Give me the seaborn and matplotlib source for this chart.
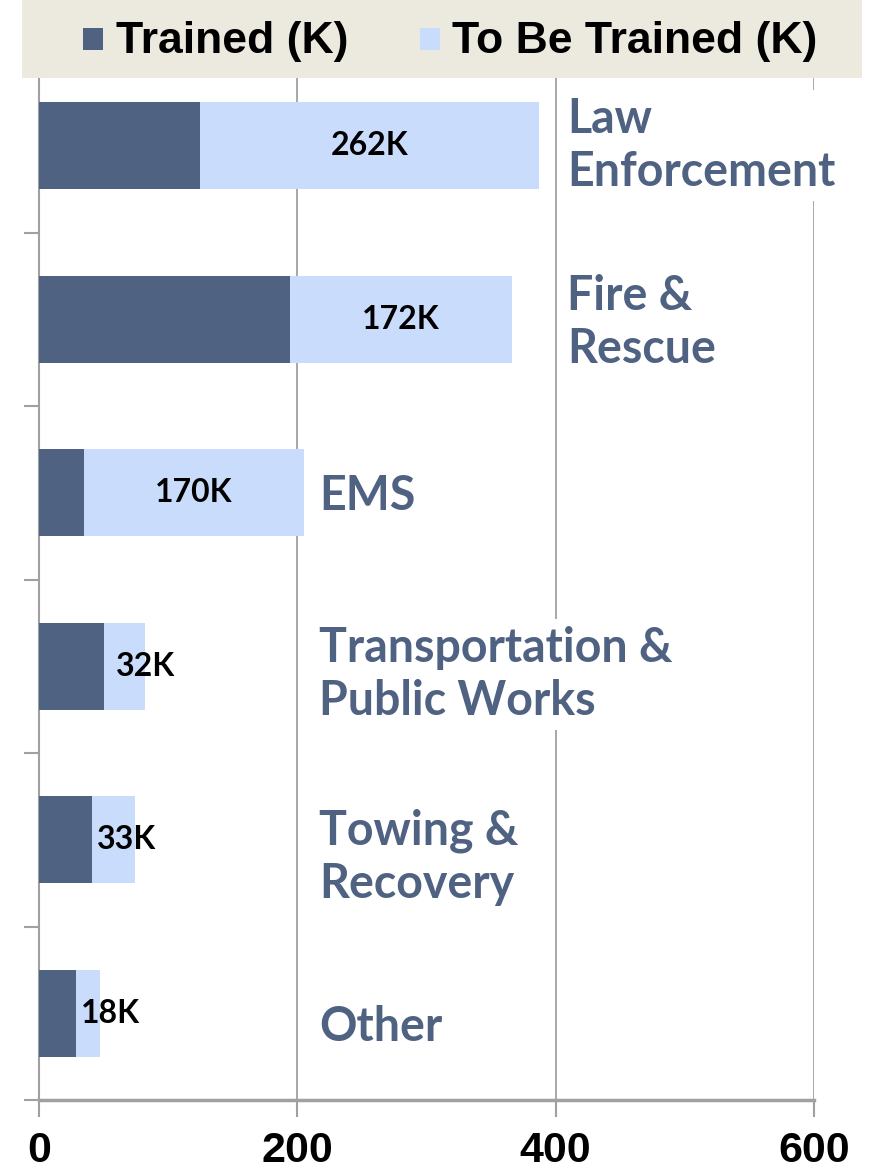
import matplotlib
matplotlib.use("Agg")
import matplotlib.pyplot as plt
from matplotlib.patches import Rectangle
import numpy as np
import pandas as pd
import seaborn as sns

# ---------------- data ----------------
categories = ["Law\nEnforcement", "Fire &\nRescue", "EMS",
              "Transportation &\nPublic Works", "Towing &\nRecovery", "Other"]
trained = [125, 194, 35, 50, 41, 29]
to_be_trained = [262, 172, 170, 32, 33, 18]
value_labels = ["262K", "172K", "170K", "32K", "33K", "18K"]
xticks = [0, 200, 400, 600]
legend_labels = ["Trained (K)", "To Be Trained (K)"]

# ---------------- style ----------------
W, H = 874, 1173
DARK = "#506282"
LIGHT = "#C9DCFB"
TEXTBLUE = "#4F6282"
GRID = "#A0A0A0"
BAND = "#ECEADF"

sns.set_style("white")
plt.rcParams["font.family"] = ["Liberation Sans", "DejaVu Sans"]

df = pd.DataFrame({
    "category": categories,
    "trained": trained,
    "total": np.array(trained) + np.array(to_be_trained),
})

fig = plt.figure(figsize=(W / 100, H / 100), dpi=100)
fig.patch.set_facecolor("white")
ax = fig.add_axes([39 / W, 1 - 1100 / H, (814 - 39) / W, (1100 - 59) / H])

sns.barplot(data=df, y="category", x="total", color=LIGHT, saturation=1,
            width=0.5, orient="h", ax=ax, linewidth=0, zorder=2)
sns.barplot(data=df, y="category", x="trained", color=DARK, saturation=1,
            width=0.5, orient="h", ax=ax, linewidth=0, zorder=3)

ax.set_xlim(0, 600)
ax.set_ylim(5.5, -0.5)
ax.set_xlabel("")
ax.set_ylabel("")
ax.set_xticks(xticks)
ax.set_xticklabels([str(t) for t in xticks], fontsize=31, fontweight="bold",
                   family=["Liberation Sans", "DejaVu Sans"])
ax.set_yticks(range(len(categories)))
ax.set_yticklabels([])
ax.set_yticks(np.arange(0.5, len(categories), 1), minor=True)
ax.tick_params(axis="y", which="major", length=0)
ax.tick_params(axis="y", which="minor", length=11, width=1.5, color=GRID, direction="out", left=True)
ax.tick_params(axis="x", which="major", length=12, width=1.5, color=GRID, direction="out",
               bottom=True, pad=10, labelcolor="black")

ax.xaxis.grid(True, color=GRID, linewidth=1.3, zorder=0)
ax.yaxis.grid(False)
ax.set_axisbelow(True)
for s in ["top", "right"]:
    ax.spines[s].set_visible(False)
ax.spines["left"].set_color(GRID)
ax.spines["left"].set_linewidth(1.5)
ax.spines["bottom"].set_color(GRID)
ax.spines["bottom"].set_linewidth(2.5)

# value labels inside the "to be trained" segments
label_offsets_px = [0, 0, 0, 21, 13, 22]
for i, (t, tb, lab) in enumerate(zip(trained, to_be_trained, value_labels)):
    ax.annotate(lab, xy=(t + tb / 2, i), xytext=(label_offsets_px[i] * 0.72, 0),
                textcoords="offset points", ha="center", va="center",
                fontsize=23, fontweight="bold", color="black",
                family=["Lato", "DejaVu Sans"], zorder=5)

# category labels to the right of bars
cat_dy = [0.0, 0.02, 0.02, 0.05, 0.1, 0.08]
for i, (cat, t, tb) in enumerate(zip(categories, trained, to_be_trained)):
    x = 409 if (t + tb) > 300 else 217
    ax.text(x, i + cat_dy[i], cat, ha="left", va="center", fontsize=33.5, fontweight="bold",
            color=TEXTBLUE, family=["Lato", "DejaVu Sans"], linespacing=1.25,
            bbox=dict(boxstyle="square,pad=0.15", facecolor="white", edgecolor="none"),
            zorder=6)

# legend band at top
def fx(px):
    return px / W

def fy(py):
    return 1 - py / H

fig.patches.append(Rectangle((fx(22), fy(78)), fx(862) - fx(22), 78 / H,
                             transform=fig.transFigure, facecolor=BAND,
                             edgecolor="none", zorder=5))
fig.patches.append(Rectangle((fx(83), fy(50)), 20 / W, 22 / H, transform=fig.transFigure,
                             facecolor=DARK, edgecolor="none", zorder=6))
fig.patches.append(Rectangle((fx(420), fy(50)), 20 / W, 22 / H, transform=fig.transFigure,
                             facecolor=LIGHT, edgecolor="none", zorder=6))
fig.text(fx(116), fy(41), legend_labels[0], ha="left", va="center", fontsize=32,
         fontweight="bold", color="black", zorder=7)
fig.text(fx(452), fy(41), legend_labels[1], ha="left", va="center", fontsize=32,
         fontweight="bold", color="black", zorder=7)

fig.savefig("out.png", dpi=100)
